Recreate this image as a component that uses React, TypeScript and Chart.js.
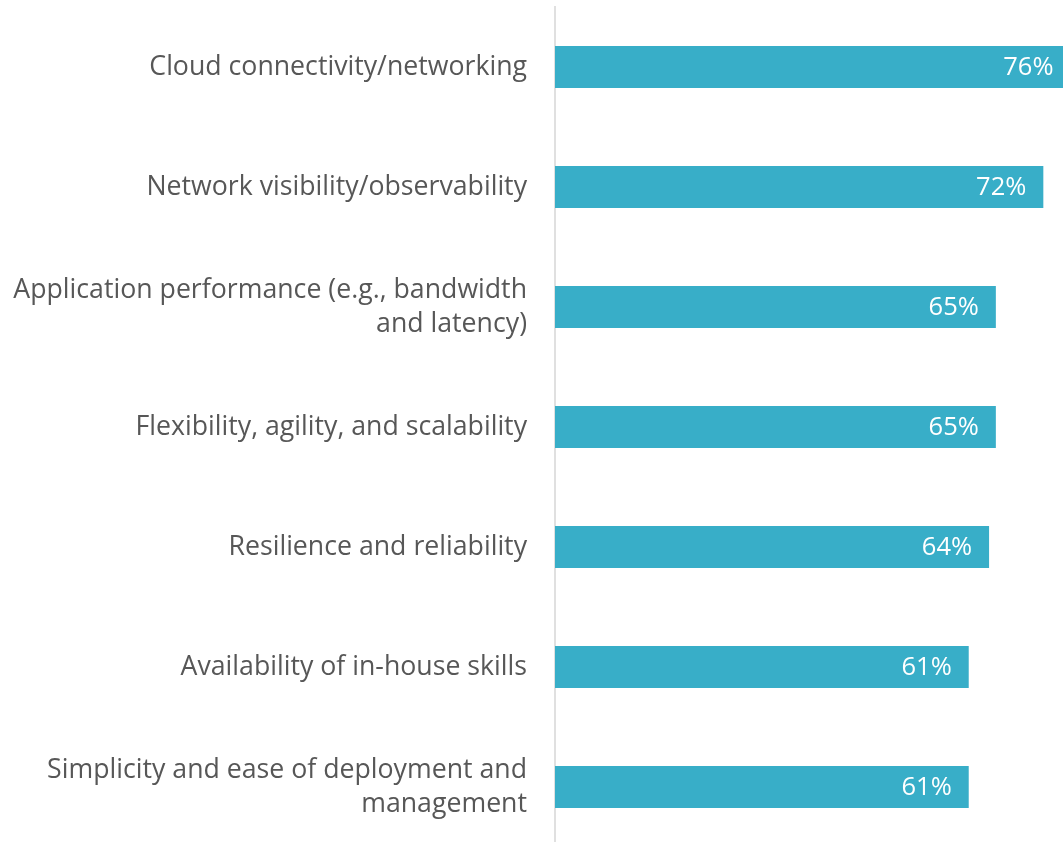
import React, { useEffect, useRef } from "react";
import { Chart, registerables } from "chart.js";

Chart.register(...registerables);

const categories: (string | string[])[] = [
  "Cloud connectivity/networking",
  "Network visibility/observability",
  ["Application performance (e.g., bandwidth", "and latency)"],
  "Flexibility, agility, and scalability",
  "Resilience and reliability",
  "Availability of in-house skills",
  ["Simplicity and ease of deployment and", "management"],
];

const values: number[] = [76, 72, 65, 65, 64, 61, 61];

const valueLabels: string[] = ["76%", "72%", "65%", "65%", "64%", "61%", "61%"];

const BAR_COLOR = "#38AEC8";
const FONT = "'Open Sans', sans-serif";

const barLabelPlugin = {
  id: "barLabels",
  afterDatasetsDraw(chart: any) {
    const ctx = chart.ctx;
    const meta = chart.getDatasetMeta(0);
    ctx.save();
    ctx.fillStyle = "#ffffff";
    ctx.font = `25.5px ${FONT}`;
    ctx.textAlign = "right";
    ctx.textBaseline = "middle";
    meta.data.forEach((bar: any, i: number) => {
      ctx.fillText(valueLabels[i], bar.x - 17, bar.y + 1);
    });
    ctx.restore();
  },
};

export default function App() {
  const canvasRef = useRef<HTMLCanvasElement | null>(null);

  useEffect(() => {
    document.body.style.margin = "0";
    const canvas = canvasRef.current;
    if (!canvas) return;
    const chart = new Chart(canvas, {
      type: "bar",
      data: {
        labels: categories,
        datasets: [
          {
            data: values,
            backgroundColor: BAR_COLOR,
            borderWidth: 0,
            barPercentage: 0.35,
            categoryPercentage: 1,
          },
        ],
      },
      options: {
        indexAxis: "y",
        animation: false,
        responsive: false,
        maintainAspectRatio: false,
        layout: { padding: { top: 7, right: 0, bottom: 0, left: 0 } },
        plugins: {
          legend: { display: false },
          tooltip: { enabled: false },
        },
        scales: {
          x: {
            min: 0,
            max: 74.9,
            display: false,
            grid: { display: false },
          },
          y: {
            afterFit(scale: any) {
              scale.width = 555;
              scale.paddingTop = 0;
              scale.paddingBottom = 0;
            },
            grid: { display: false, drawTicks: false },
            border: { display: true, color: "#e0e0e0", width: 2 },
            ticks: {
              padding: 28,
              color: "#575757",
              font: { family: FONT, size: 26.7, lineHeight: 1.27 },
            },
          },
        },
      },
      plugins: [barLabelPlugin],
    });
    return () => chart.destroy();
  }, []);

  return (
    <div style={{ position: "relative", width: 1063, height: 842, overflow: "hidden" }}>
      <canvas
        ref={canvasRef}
        width={1063}
        height={847}
        style={{ position: "absolute", left: 0, top: 0, width: 1063, height: 847 }}
      />
    </div>
  );
}
